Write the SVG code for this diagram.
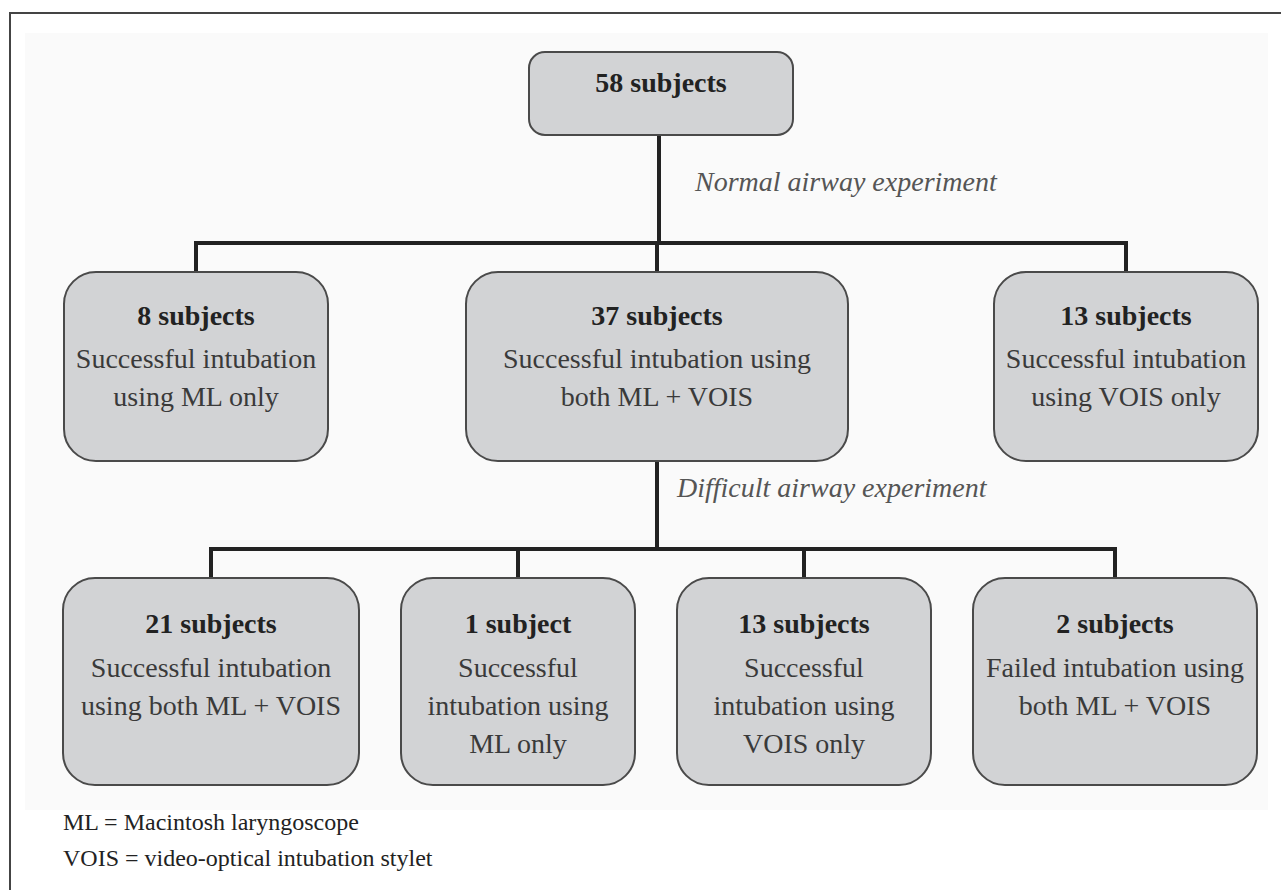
<svg xmlns="http://www.w3.org/2000/svg" width="1281" height="890" viewBox="0 0 1281 890">
<style>
.box{fill:#d2d3d5;stroke:#4a4a4a;stroke-width:2}
.t{font-family:'Liberation Serif','Times New Roman',Tinos,'DejaVu Serif',serif;font-size:28px;text-anchor:middle;fill:#3a3a3a}
.b{font-weight:bold;fill:#222}
.lab{font-family:'Liberation Serif','Times New Roman',Tinos,'DejaVu Serif',serif;font-size:28px;font-style:italic;fill:#555}
.leg{font-family:'Liberation Serif','Times New Roman',Tinos,'DejaVu Serif',serif;font-size:24px;fill:#222}
.conn{fill:none;stroke:#222;stroke-width:4}
</style>
<rect x="0" y="0" width="1281" height="890" fill="#ffffff"/>
<rect x="25" y="33" width="1243" height="777" fill="#fafafa"/>
<path d="M10,890 V13 H1281" fill="none" stroke="#444" stroke-width="2"/>
<g id="connectors">
<path class="conn" d="M659,135 V243"/>
<path class="conn" d="M196,272 V243 H1126 V272"/>
<path class="conn" d="M657,243 V272"/>
<path class="conn" d="M657,461 V549"/>
<path class="conn" d="M211,578 V549 H1115 V578"/>
<path class="conn" d="M518,549 V578"/>
<path class="conn" d="M804,549 V578"/>
</g>
<text class="lab" x="695" y="191">Normal airway experiment</text>
<text class="lab" x="677" y="497">Difficult airway experiment</text>
<g id="n58">
<rect class="box" x="529" y="52" width="264" height="83" rx="16"/>
<text class="t b" x="661" y="92">58 subjects</text>
</g>
<g id="n8">
<rect class="box" x="64" y="272" width="264" height="189" rx="32"/>
<text class="t b" x="196" y="325">8 subjects</text>
<text class="t" x="196" y="368">Successful intubation</text>
<text class="t" x="196" y="406">using ML only</text>
</g>
<g id="n37">
<rect class="box" x="466" y="272" width="382" height="189" rx="32"/>
<text class="t b" x="657" y="325">37 subjects</text>
<text class="t" x="657" y="368">Successful intubation using</text>
<text class="t" x="657" y="406">both ML + VOIS</text>
</g>
<g id="n13a">
<rect class="box" x="994" y="272" width="264" height="189" rx="32"/>
<text class="t b" x="1126" y="325">13 subjects</text>
<text class="t" x="1126" y="368">Successful intubation</text>
<text class="t" x="1126" y="406">using VOIS only</text>
</g>
<g id="n21">
<rect class="box" x="63" y="578" width="296" height="207" rx="32"/>
<text class="t b" x="211" y="633">21 subjects</text>
<text class="t" x="211" y="677">Successful intubation</text>
<text class="t" x="211" y="715">using both ML + VOIS</text>
</g>
<g id="n1">
<rect class="box" x="401" y="578" width="234" height="207" rx="32"/>
<text class="t b" x="518" y="633">1 subject</text>
<text class="t" x="518" y="677">Successful</text>
<text class="t" x="518" y="715">intubation using</text>
<text class="t" x="518" y="753">ML only</text>
</g>
<g id="n13b">
<rect class="box" x="677" y="578" width="254" height="207" rx="32"/>
<text class="t b" x="804" y="633">13 subjects</text>
<text class="t" x="804" y="677">Successful</text>
<text class="t" x="804" y="715">intubation using</text>
<text class="t" x="804" y="753">VOIS only</text>
</g>
<g id="n2">
<rect class="box" x="973" y="578" width="284" height="207" rx="32"/>
<text class="t b" x="1115" y="633">2 subjects</text>
<text class="t" x="1115" y="677">Failed intubation using</text>
<text class="t" x="1115" y="715">both ML + VOIS</text>
</g>
<g id="legend">
<text class="leg" x="63" y="830">ML = Macintosh laryngoscope</text>
<text class="leg" x="63" y="866">VOIS = video-optical intubation stylet</text>
</g>
</svg>
